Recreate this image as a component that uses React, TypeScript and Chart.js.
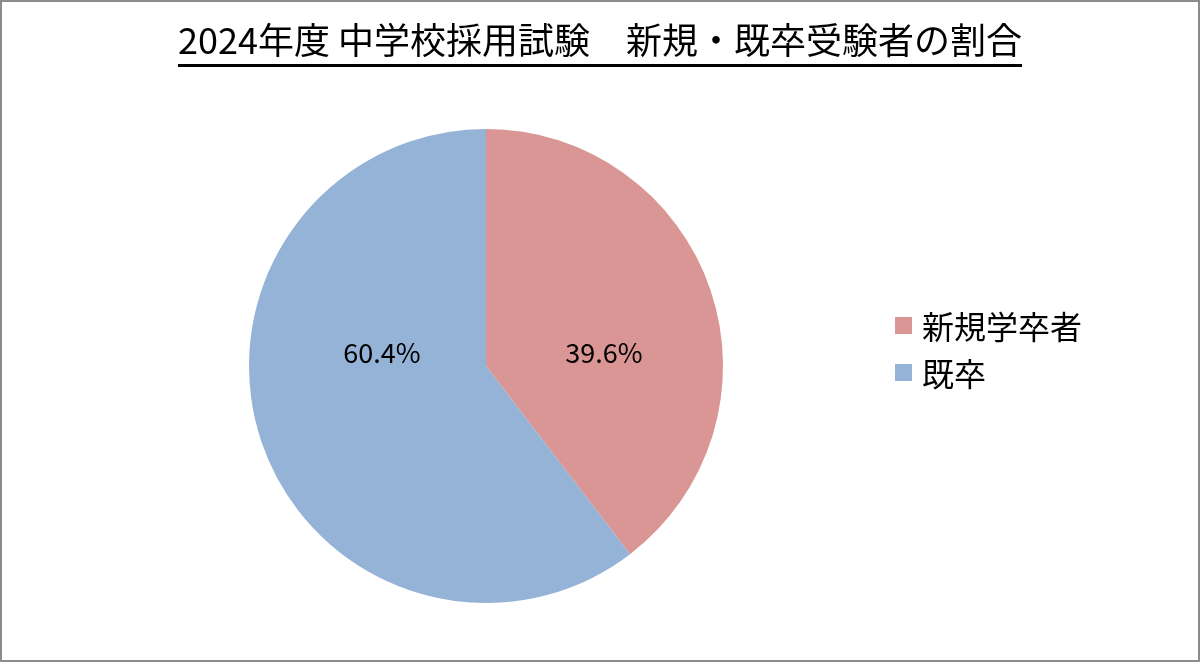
import React, { useEffect, useRef } from "react";
import { Chart, registerables } from "chart.js";

Chart.register(...registerables);

const titleText = "2024年度 中学校採用試験　新規・既卒受験者の割合";
const categories = ["新規学卒者", "既卒"];
const shares = [39.6, 60.4];
const sliceColors = ["#D99694", "#95B3D7"];

const FONT = '"Noto Sans CJK JP", "Noto Sans", sans-serif';

const labelPlugin = {
  id: "sliceLabels",
  afterDatasetsDraw(chart: any) {
    const ctx = chart.ctx;
    const meta = chart.getDatasetMeta(0);
    const data = chart.data.datasets[0].data as number[];
    ctx.save();
    ctx.font = `27px ${FONT}`;
    ctx.fillStyle = "#000";
    ctx.textAlign = "center";
    ctx.textBaseline = "middle";
    meta.data.forEach((arc: any, i: number) => {
      const p = arc.getProps(["x", "y", "startAngle", "endAngle", "outerRadius"], true);
      const mid = (p.startAngle + p.endAngle) / 2;
      const side = Math.cos(mid) >= 0 ? 1 : -1;
      const k = side > 0 ? 0.498 : 0.439;
      const x = p.x + side * k * p.outerRadius;
      const y = p.y - 0.057 * p.outerRadius;
      ctx.fillText(`${data[i].toFixed(1)}%`, x, y);
    });
    ctx.restore();
  },
};

export default function App() {
  const canvasRef = useRef<HTMLCanvasElement | null>(null);

  useEffect(() => {
    document.body.style.margin = "0";
    const canvas = canvasRef.current;
    if (!canvas) return;
    const chart = new Chart(canvas, {
      type: "pie",
      data: {
        labels: categories,
        datasets: [
          {
            data: shares,
            backgroundColor: sliceColors,
            borderWidth: 0,
          },
        ],
      },
      options: {
        responsive: false,
        animation: false,
        layout: { padding: { left: 249, right: 477, top: 129, bottom: 59 } },
        plugins: {
          legend: { display: false },
          title: { display: false },
          tooltip: { enabled: false },
        },
      },
      plugins: [labelPlugin],
    });
    return () => chart.destroy();
  }, []);

  return (
    <div
      style={{
        position: "fixed",
        left: 0,
        top: 0,
        width: 1200,
        height: 662,
        background: "#fff",
        overflow: "hidden",
        fontFamily: FONT,
      }}
    >
      <canvas
        ref={canvasRef}
        width={1200}
        height={662}
        style={{ position: "absolute", left: 0, top: 0, width: 1200, height: 662 }}
      />
      <div
        style={{
          position: "absolute",
          left: 0,
          top: 18,
          width: 1200,
          textAlign: "center",
        }}
      >
        <span
          style={{
            display: "inline-block",
            fontSize: 36,
            lineHeight: "40px",
            paddingBottom: 6,
            borderBottom: "3px solid #000",
            color: "#000",
            whiteSpace: "pre",
          }}
        >
          {titleText}
        </span>
      </div>
      {categories.map((c, i) => (
        <div
          key={c}
          style={{
            position: "absolute",
            left: 895,
            top: 309 + i * 47,
            height: 32,
            display: "flex",
            alignItems: "center",
            whiteSpace: "nowrap",
          }}
        >
          <span
            style={{
              display: "inline-block",
              width: 17,
              height: 17,
              background: sliceColors[i],
              marginRight: 10,
            }}
          />
          <span style={{ fontSize: 32, lineHeight: "32px", color: "#000" }}>{c}</span>
        </div>
      ))}
      <div
        style={{
          position: "absolute",
          left: 0,
          top: 0,
          width: 1200,
          height: 662,
          boxSizing: "border-box",
          border: "2px solid #8c8c8c",
          pointerEvents: "none",
        }}
      />
    </div>
  );
}
